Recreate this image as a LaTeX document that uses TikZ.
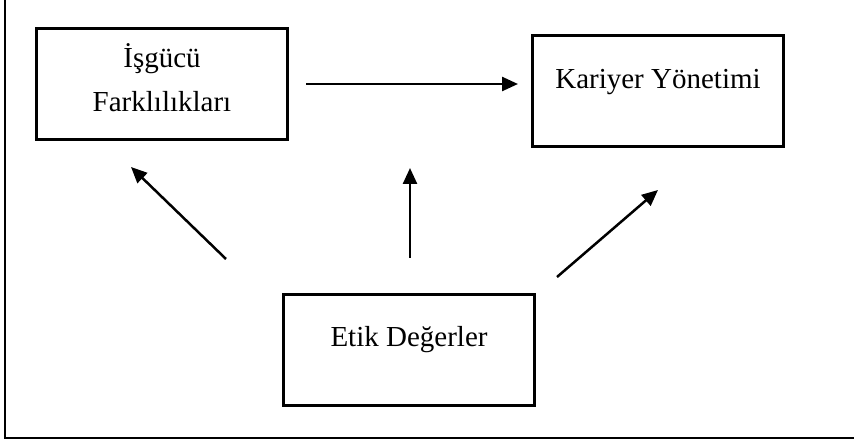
\documentclass[tikz,border=0pt]{standalone}
\usepackage{fontspec}
\setmainfont{Liberation Serif}
\usetikzlibrary{arrows.meta,calc}
\begin{document}
\begin{tikzpicture}[x=1pt,y=-1pt,
  box/.style={draw,line width=3pt,minimum width=251pt,minimum height=111pt,inner sep=0pt},
  lbl/.style={font=\fontsize{29}{33}\selectfont,anchor=base,inner sep=0pt},
  arr/.style={line width=2.5pt,-{Triangle[length=16pt,width=14pt]}},
  frameline/.style={line width=2.5pt}]
\useasboundingbox (0,0) rectangle (854,443);
% partial outer frame
\draw[frameline] (5,-2) -- (5,438) -- (856,438);
% boxes
\node[box] (isgucu) at (162,84.5) {};
\node[box] (kariyer) at (658,91) {};
\node[box] (etik) at (409,350) {};
% labels
\node[lbl] (isgucuA) at (162,68) {İşgücü};
\node[lbl] (isgucuB) at (162,112) {Farklılıkları};
\node[lbl] (kariyerT) at (658,89) {Kariyer Yönetimi};
\node[lbl] (etikT) at (409,347) {Etik Değerler};
% arrow end points
\coordinate (hs) at (306,84);
\coordinate (he) at (518,84);
\coordinate (ls) at (226,259);
\coordinate (le) at (131,167);
\coordinate (ms) at (410,258);
\coordinate (me) at (410,168);
\coordinate (rs) at (557,277);
\coordinate (re) at (658,190);
% connectors
\draw[arr] (hs) -- (he);
\draw[arr] (ls) -- (le);
\draw[arr] (ms) -- (me);
\draw[arr] (rs) -- (re);
\end{tikzpicture}
\end{document}
